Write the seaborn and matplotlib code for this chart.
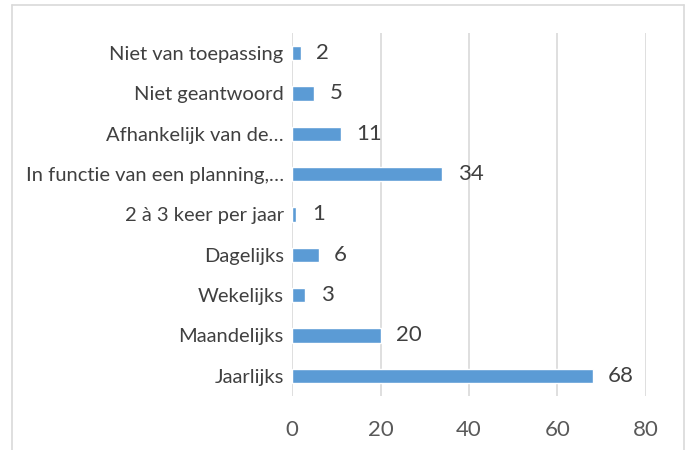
import matplotlib
matplotlib.use("Agg")
import matplotlib.pyplot as plt
from matplotlib.lines import Line2D
import seaborn as sns
import pandas as pd

categories = [
    "Niet van toepassing",
    "Niet geantwoord",
    "Afhankelijk van de…",
    "In functie van een planning,…",
    "2 à 3 keer per jaar",
    "Dagelijks",
    "Wekelijks",
    "Maandelijks",
    "Jaarlijks",
]
counts = [2, 5, 11, 34, 1, 6, 3, 20, 68]
x_ticks = [0, 20, 40, 60, 80]

df = pd.DataFrame({"categorie": categories, "aantal": counts})

sns.set_theme(style="white")
plt.rcParams["font.family"] = ["Lato", "DejaVu Sans"]

fig = plt.figure(figsize=(6.9, 4.5), dpi=100)
ax = fig.add_axes([0.4232, 0.12, 0.513, 0.8067])

sns.barplot(data=df, x="aantal", y="categorie", orient="h",
            color="#5B9BD5", saturation=1, width=0.36, ax=ax, zorder=3)

ax.set_xlim(0, 80)
ax.set_xticks(x_ticks)
ax.set_xticklabels([str(t) for t in x_ticks], fontsize=16, color="#595959")
ax.tick_params(axis="x", length=0, pad=17)
ax.tick_params(axis="y", length=0, pad=6, labelsize=14.5, labelcolor="#404040")
ax.set_xlabel("")
ax.set_ylabel("")
ax.grid(axis="x", color="#d9d9d9", linewidth=1.2, zorder=0)
ax.grid(axis="y", visible=False)
for s in ax.spines.values():
    s.set_visible(False)

for i, v in enumerate(counts):
    ax.annotate(str(v), xy=(v, i), xytext=(11, 0), textcoords="offset points",
                va="center", ha="left", fontsize=16, color="#404040")

# chart border
border = dict(color="#d9d9d9", linewidth=1.2, transform=fig.transFigure)
x0, x1, y1 = 12 / 690, 684 / 690, 1 - 5 / 450
fig.add_artist(Line2D([x0, x0], [0, y1], **border))
fig.add_artist(Line2D([x0, x1], [y1, y1], **border))
fig.add_artist(Line2D([x1, x1], [0, y1], **border))

fig.savefig("out.png", dpi=100, facecolor="white")
